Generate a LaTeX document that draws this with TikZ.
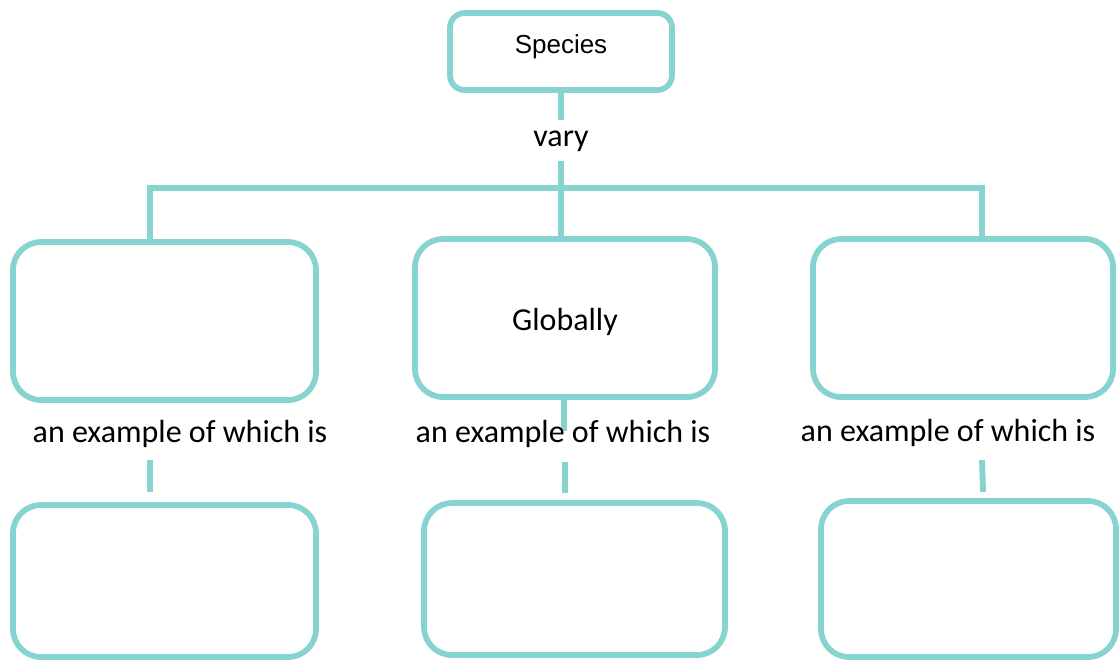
\documentclass[tikz,border=0pt]{standalone}
\usepackage{fontspec}
\setmainfont{Carlito}
\newfontfamily\arialf{Liberation Sans}
\definecolor{tealline}{RGB}{134,211,207}
\begin{document}
\begin{tikzpicture}[x=0.75pt,y=-0.75pt,
  conn/.style={draw=tealline, line width=4.4pt, line cap=butt},
  cbox/.style={draw=tealline, line width=4.3pt, rectangle, inner sep=0pt, rounded corners=21pt},
  sbox/.style={draw=tealline, line width=4.3pt, rectangle, inner sep=0pt, rounded corners=11pt},
  lbl/.style={font=\fontsize{24}{28}\selectfont, text=black, inner sep=0pt},
  slbl/.style={font=\arialf\fontsize{19.5}{23}\selectfont, text=black, inner sep=0pt}]
\useasboundingbox (0,0) rectangle (1119,662);

% boxes
\node[sbox, minimum width=166.5pt, minimum height=57.75pt] (sp) at (561,51.5) {};
\node[cbox, minimum width=227.25pt, minimum height=118.5pt] (L1) at (164.5,321) {};
\node[cbox, minimum width=225pt, minimum height=118.5pt] (M1) at (565,318) {};
\node[cbox, minimum width=225pt, minimum height=118.5pt] (R1) at (963,318) {};
\node[cbox, minimum width=227.25pt, minimum height=114pt] (L2) at (164.5,581) {};
\node[cbox, minimum width=225.75pt, minimum height=114pt] (M2) at (574.5,579) {};
\node[cbox, minimum width=221.25pt, minimum height=117pt] (R2) at (968.5,579) {};

% connector coordinates
\coordinate (hl) at (150,188);
\coordinate (hr) at (982,188);
\coordinate (lA) at (150,460);
\coordinate (lB) at (150,492);
\coordinate (mA) at (564,431);
\coordinate (mB) at (565,462);
\coordinate (mC) at (565,493);
\coordinate (rA) at (982,460);
\coordinate (rB) at (983,492);

% labels (positions)
\node[lbl, anchor=base, inner ysep=7.5pt] (vary) at (561,146) {vary};

% connectors
\draw[conn] (sp.south) -- (vary.north);
\draw[conn] (vary.south) -- (vary.south |- M1.north);
\draw[conn, line join=miter] (hl |- L1.north) -- (hl) -- (hr) -- (hr |- R1.north);
\draw[conn] (lA) -- (lB);
\draw[conn] (M1.south -| mA) -- (mA);
\draw[conn] (mB) -- (mC);
\draw[conn] (rA) -- (rB);

% texts
\node[slbl, anchor=base] (spt) at (561,53) {Species};
\node[lbl, anchor=base] (glob) at (565,330) {Globally};
\node[lbl, anchor=base] (exL) at (180,442) {an example of which is};
\node[lbl, anchor=base] (exM) at (563,442) {an example of which is};
\node[lbl, anchor=base] (exR) at (948,441) {an example of which is};
\end{tikzpicture}
\end{document}
